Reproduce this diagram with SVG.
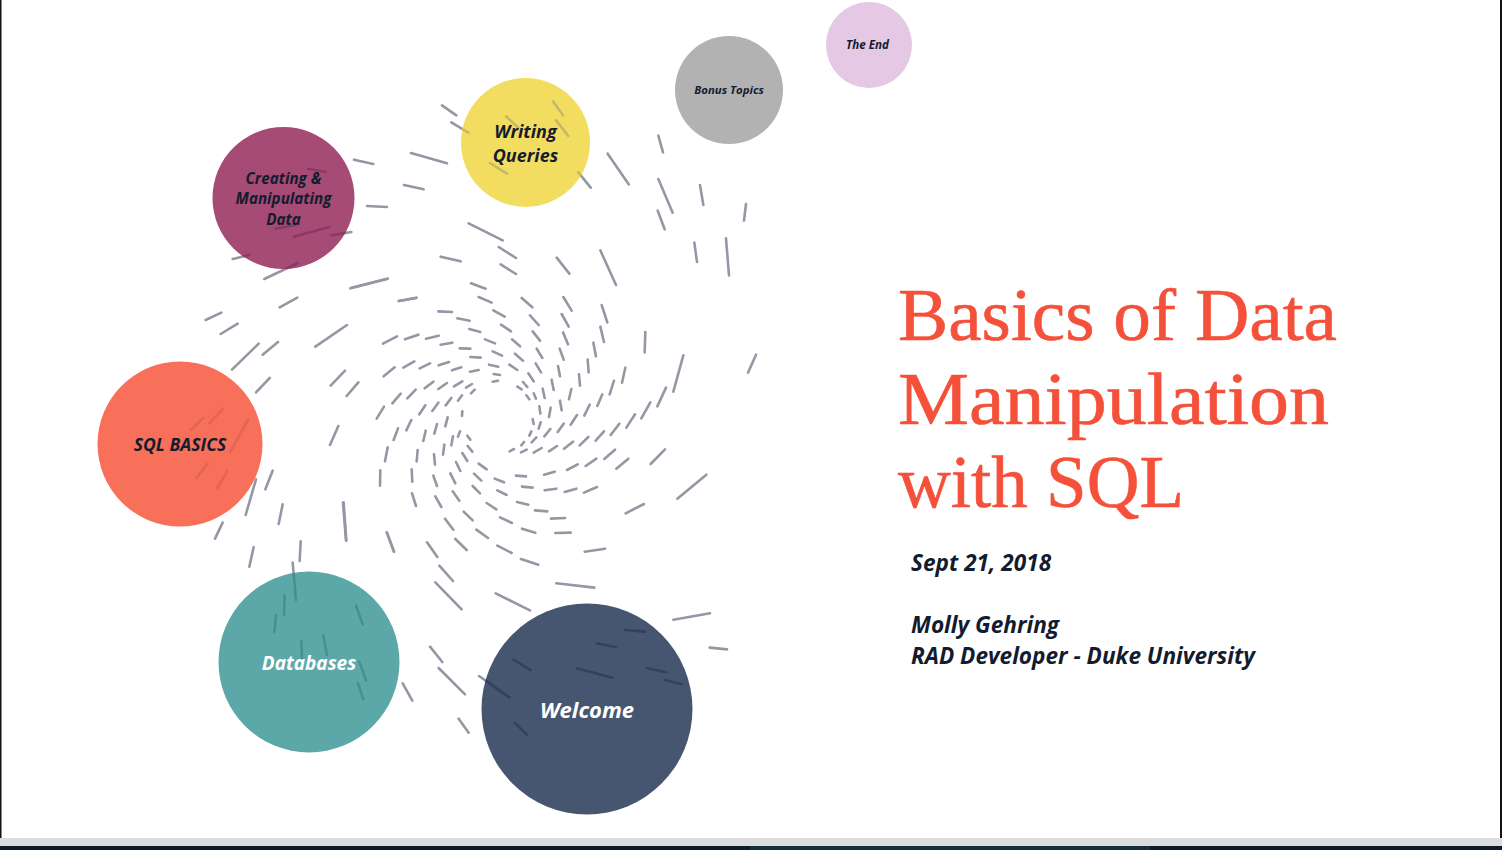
<svg xmlns="http://www.w3.org/2000/svg" xmlns:xlink="http://www.w3.org/1999/xlink" width="1502" height="850" viewBox="0 0 1502 850">
<style>
.d{fill:none;stroke-linecap:round;stroke-width:2.6;vector-effect:non-scaling-stroke}
.l{font-family:"Open Sans","Noto Sans",sans-serif;font-weight:700;font-style:italic;fill:#131c2e;text-anchor:middle}
.s{font-family:"Open Sans","Noto Sans",sans-serif;font-weight:700;font-style:italic;fill:#131c2e;font-size:22.6px}
.t{font-family:"Liberation Serif",serif;fill:#f4503a;font-size:75px;stroke:#f4503a;stroke-width:.6}
</style>
<defs>
<g id="dashes">
<path class="d" transform="translate(340 270) scale(.33333)" d="M33 54L142 26M177 93L229 84M295 124L336 126M352 145L389 152M388 177L421 186M393 40L437 56M416 81L455 98M460 121L494 140M483 164L513 184M516 208L540 229M435 208L465 220M458 244L486 257M525 251L549 272M508 284L532 300M447 284L475 290M461 312L480 315M458 335L474 332M390 305L416 300M336 301L364 292M296 286L327 276M239 295L270 280M190 293L223 274M131 319L164 292M129 221L171 199M195 208L235 194M258 206L296 197M302 224L337 218M359 235L391 236M391 261L422 263M254 355L280 335M295 357L321 339M342 349L367 334M378 353L396 342M393 370L404 359M202 385L227 359M157 400L182 371M110 446L132 410M238 433L256 406M277 423L295 398M317 406L334 384M354 392L366 376M199 481L214 450M161 510L174 475M250 513L257 482M283 491L291 462M316 469L323 442M366 438L367 424M354 500L360 484M334 526L339 499M309 554L313 524M230 574L233 540M135 574L143 532M120 647L121 601M217 635L215 598M285 584L282 553M280 617L291 648M216 670L228 708M331 610L346 640M348 576L361 603M367 549L382 573M383 528L397 545M382 497L391 509M286 679L304 711M338 664L358 692M398 648L420 670M402 611L424 632M416 581L440 598M464 626L492 637M472 661L500 675M528 617L558 619M546 650L578 653M612 614L644 605M614 661L649 656M674 666L709 656M681 600L713 583M732 668L771 651M737 588L769 566M793 567L825 539M829 596L865 566M932 582L975 538M857 730L912 702M531 696L565 704M585 721L622 724M633 746L675 744M646 789L692 788M440 699L469 718M480 742L516 759M546 776L586 788M472 827L515 849M543 867L595 884M409 779L444 804M371 725L398 751M315 746L340 779M346 807L380 840M261 817L292 861M141 788L162 845M9 698L18 811M545 84L577 112M570 136L596 165M578 184L600 212M590 236L607 264M587 280L603 307M565 310L581 334M549 336L562 351M532 350L545 358M559 376L568 388M581 370L588 386M608 356L614 384M635 329L641 360M654 288L660 319M659 236L671 269M669 187L684 223M665 132L686 170M670 81L695 122M785 105L802 157M781 170L792 216M760 218L768 259M743 269L746 307M717 313L720 347M687 388L694 357M660 392L665 421M627 441L632 413M598 409L601 431M578 447L581 462M596 476L602 457M568 497L574 484M613 499L631 477M653 486L671 461M692 464L711 435M733 437L749 404M772 408L787 373M809 373L822 332M846 338L856 293M914 247L916 186M544 526L552 516M575 517L589 502M509 544L522 537M543 547L560 539M581 548L605 534M627 544L651 528M672 536L699 515M719 526L745 501M767 512L792 484M812 495L838 461M859 473L885 433M904 445L931 397M952 409L978 353"/>
<path class="d" transform="translate(430 0) scale(.33333)" d="M36 316L79 346M64 367L115 398M-57 459L51 490M228 349L265 383M369 304L399 346M378 361L415 408M180 489L231 521M445 517L482 563M533 461L596 553M685 407L699 457M685 537L728 638M683 632L704 688M810 555L820 615M948 612L942 662M793 728L801 786M888 715L897 826M116 670L218 721M206 741L258 774M212 793L258 822M32 770L92 784M380 773L418 821M511 751L558 855"/>
<path class="d" transform="translate(90 90) scale(.33333)" d="M655 237L707 245M792 209L850 222M942 285L1001 298M831 348L891 351M556 416L616 406M611 440L718 411M724 436L784 426M428 507L478 495M523 567L624 519M781 595L893 566M926 633L979 623M569 652L622 623M347 690L394 668M392 732L443 701M426 839L506 761M518 794L564 756M676 770L771 705"/>
<path class="d" transform="translate(80 350) scale(.33333)" d="M528 127L569 84M752 107L795 62M800 138L835 97M750 285L775 228M332 240L370 204M388 220L428 177M451 305L505 208M350 384L382 342M412 414L442 362M556 418L578 362M497 495L528 388M596 522L608 463M405 566L428 518M791 458L799 572M920 547L942 605M508 650L521 591M659 633L662 574"/>
<path class="d" transform="translate(210 560) scale(.33333)" d="M248 8L258 120M222 165L224 106M193 216L198 165M274 244L276 297M340 226L351 285M438 137L458 193M448 305L468 361M444 370L460 418M578 370L607 422M660 260L697 306M686 324L765 403M746 476L776 518M688 17L729 63M676 67L755 148"/>
<path class="d" transform="translate(420 540) scale(.33333)" d="M227 160L330 211M409 130L523 143M494 35L555 26M615 270L675 275M530 310L588 322M280 359L332 390M470 385L578 413M681 385L739 397M735 420L785 433M760 239L870 220M869 323L921 328M177 408L268 472M284 548L321 584"/>
<path class="d" transform="translate(620 330) scale(.33333)" d="M190 76L160 185M408 74L384 128M172 506L259 434"/>
</g>
<clipPath id="cw"><circle cx="587" cy="709" r="105.5"/></clipPath>
<clipPath id="cd"><circle cx="309" cy="662" r="90.5"/></clipPath>
<clipPath id="cs"><circle cx="180" cy="444" r="82.5"/></clipPath>
<clipPath id="cc"><circle cx="283.500" cy="198" r="71"/></clipPath>
<clipPath id="cq"><circle cx="525.500" cy="142.500" r="64.500"/></clipPath>
</defs>
<rect id="page" width="1502" height="850" fill="#fff"/>
<g id="frame">
<rect x="0" y="0" width="1.500" height="838" fill="#111"/>
<rect x="1500" y="0" width="2" height="838" fill="#111"/>
<rect x="0" y="838" width="1502" height="8" fill="#dcdce0"/>
<rect x="0" y="846" width="1502" height="4" fill="#0f1a2c"/>
<rect x="750" y="846" width="400" height="4" fill="#13303f"/>
</g>
<g id="connectors" stroke="#9299a4"><use href="#dashes"/></g>
<g id="node-welcome">
<circle cx="587" cy="709" r="105.5" fill="#475670"/>
<g clip-path="url(#cw)" stroke="#33415c"><use href="#dashes"/></g>
<text class="l" style="fill:#fff" x="587" y="717.5" font-size="22">Welcome</text>
</g>
<g id="node-databases">
<circle cx="309" cy="662" r="90.5" fill="#5ca8a8"/>
<g clip-path="url(#cd)" stroke="#478f90"><use href="#dashes"/></g>
<text class="l" style="fill:#fff" x="309" y="670" font-size="19">Databases</text>
</g>
<g id="node-sql">
<circle cx="180" cy="444" r="82.5" fill="#f87059"/>
<g clip-path="url(#cs)" stroke="#e0655a"><use href="#dashes"/></g>
<text class="l" x="180" y="450.5" font-size="17.500">SQL BASICS</text>
</g>
<g id="node-creating">
<circle cx="283.500" cy="198" r="71" fill="#a54b75"/>
<g clip-path="url(#cc)" stroke="#8a3a63"><use href="#dashes"/></g>
<text class="l" x="283.500" y="183.500" font-size="15.200">Creating &amp;</text>
<text class="l" x="283.500" y="204" font-size="15.200">Manipulating</text>
<text class="l" x="283.500" y="224.500" font-size="15.200">Data</text>
</g>
<g id="node-writing">
<circle cx="525.500" cy="142.500" r="64.500" fill="#f3dd61"/>
<g clip-path="url(#cq)" stroke="#c4b964"><use href="#dashes"/></g>
<text class="l" x="525.500" y="138" font-size="18">Writing</text>
<text class="l" x="525.500" y="162" font-size="18">Queries</text>
</g>
<g id="node-bonus">
<circle cx="729" cy="90" r="54" fill="#b2b2b2"/>
<text class="l" x="729" y="94" font-size="11.400">Bonus Topics</text>
</g>
<g id="node-end">
<circle cx="869" cy="45" r="43" fill="#e4c8e4"/>
<text class="l" x="867.500" y="49" font-size="11.600">The End</text>
</g>
<g id="title">
<text class="t" x="898" y="340" textLength="439" lengthAdjust="spacingAndGlyphs">Basics of Data</text>
<text class="t" x="898" y="424" textLength="431" lengthAdjust="spacingAndGlyphs">Manipulation</text>
<text class="t" x="898" y="507" textLength="286" lengthAdjust="spacingAndGlyphs">with SQL</text>
</g>
<g id="subtitle">
<text class="s" x="911" y="571">Sept 21, 2018</text>
<text class="s" x="911" y="633">Molly Gehring</text>
<text class="s" x="911" y="664">RAD Developer - Duke University</text>
</g>
</svg>
